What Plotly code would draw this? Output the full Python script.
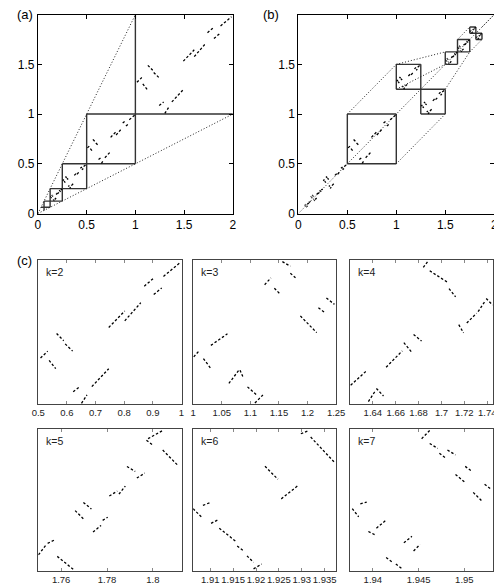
import plotly.graph_objects as go

W, H = 502, 584

# ---- panel (a) / (b) data ----
ab_xticks = [0, 0.5, 1, 1.5, 2]
ab_xticktext = ["0", "0.5", "1", "1.5", "2"]
ab_yticks = [0, 0.5, 1, 1.5]
ab_yticktext = ["0", "0.5", "1", "1.5"]
a_scales = [1, 0.5, 0.25, 0.125, 0.0625]          # corner points of the nested boxes
a_mark_scales = [1, 0.5, 0.25, 0.125]              # boxes that carry a copy of the k=2 set
a_dotted = [(0, 0, 1, 2), (0, 0, 2, 1)]

# squares (x0, y0, side) in panel (b)
b_squares = [(0.5, 0.5, 0.5), (1, 1.25, 0.25), (1.25, 1, 0.25), (1.5, 1.5, 0.125),
             (1.625, 1.625, 0.125), (1.75, 1.8125, 0.0625), (1.8125, 1.75, 0.0625)]
b_mark_squares = b_squares + [(0.25, 0.25, 0.25), (0.125, 0.125, 0.125), (0.0625, 0.0625, 0.0625)]
b_dotted = [(0, 0, 2, 2), (0.5, 1, 1, 1.5), (1, 1.5, 1.5, 1.625), (1.625, 1.75, 1.75, 1.875),
            (1, 0.5, 1.5, 1), (1, 1.25, 1.5, 1.5), (1.5, 1.25, 1.75, 1.625),
            (1.75, 1.625, 1.875, 1.75), (1.875, 1.875, 2, 2)]

# ---- panel (c) data ----
k_labels = ["k=2", "k=3", "k=4", "k=5", "k=6", "k=7"]
k_ranges = [(0.5, 1), (1, 1.25), (1.62, 1.745), (1.75, 1.8125), (1.90625, 1.9375), (1.9375, 1.953125)]
k_ticks = [[0.5, 0.6, 0.7, 0.8, 0.9, 1], [1, 1.05, 1.1, 1.15, 1.2, 1.25],
           [1.64, 1.66, 1.68, 1.7, 1.72, 1.74], [1.76, 1.78, 1.8],
           [1.91, 1.915, 1.92, 1.925, 1.93, 1.935], [1.94, 1.945, 1.95]]
k_ticktext = [["0.5", "0.6", "0.7", "0.8", "0.9", "1"], ["1", "1.05", "1.1", "1.15", "1.2", "1.25"],
              ["1.64", "1.66", "1.68", "1.7", "1.72", "1.74"], ["1.76", "1.78", "1.8"],
              ["1.91", "1.915", "1.92", "1.925", "1.93", "1.935"], ["1.94", "1.945", "1.95"]]

# short dashed pieces of the set, (x0, y0, x1, y1)
k2_segs = [(0.508, 0.660, 0.533, 0.684), (0.538, 0.652, 0.561, 0.623), (0.564, 0.745, 0.589, 0.720),
           (0.594, 0.709, 0.620, 0.684), (0.622, 0.543, 0.645, 0.561), (0.651, 0.503, 0.670, 0.532),
           (0.687, 0.561, 0.746, 0.623), (0.746, 0.766, 0.802, 0.823), (0.802, 0.789, 0.858, 0.852),
           (0.870, 0.909, 0.903, 0.937), (0.903, 0.880, 0.931, 0.903), (0.937, 0.943, 0.993, 0.989)]
k3_segs = [(1.001, 1.082, 1.011, 1.093), (1.018, 1.079, 1.030, 1.063), (1.031, 1.102, 1.060, 1.122),
           (1.0625, 1.036, 1.080, 1.059), (1.082, 1.059, 1.088, 1.045), (1.095, 1.030, 1.111, 1.016),
           (1.108, 1.002, 1.122, 1.016), (1.125, 1.207, 1.136, 1.219), (1.142, 1.201, 1.153, 1.190),
           (1.156, 1.247, 1.170, 1.239), (1.170, 1.227, 1.179, 1.219), (1.1875, 1.153, 1.216, 1.124),
           (1.219, 1.167, 1.230, 1.159), (1.233, 1.184, 1.247, 1.173)]
k4_segs = [(1.6206, 1.6364, 1.6347, 1.6492), (1.6361, 1.6223, 1.6417, 1.6308), (1.6431, 1.6336, 1.6493, 1.6271),
           (1.6516, 1.6520, 1.6657, 1.6662), (1.6671, 1.6733, 1.6742, 1.6648), (1.6756, 1.6804, 1.6826, 1.6747),
           (1.6841, 1.7385, 1.6883, 1.7441), (1.6897, 1.7356, 1.7052, 1.7257), (1.7066, 1.7201, 1.7123, 1.7130),
           (1.7151, 1.6889, 1.7193, 1.6818), (1.7221, 1.6903, 1.7306, 1.6988), (1.7320, 1.7002, 1.7377, 1.7087),
           (1.7391, 1.7116, 1.7447, 1.7059)]
k5_segs = [(1.7501, 1.7572, 1.7534, 1.7615), (1.7541, 1.7622, 1.7569, 1.7636), (1.7583, 1.7565, 1.7654, 1.7507),
           (1.7661, 1.7766, 1.7697, 1.7730), (1.7697, 1.7802, 1.7732, 1.7773), (1.7739, 1.7672, 1.7774, 1.7701),
           (1.7781, 1.7723, 1.7803, 1.7737), (1.7810, 1.7830, 1.7845, 1.7852), (1.7852, 1.7838, 1.7880, 1.7874),
           (1.7887, 1.7960, 1.7923, 1.7938), (1.7930, 1.7909, 1.7965, 1.7931), (1.7972, 1.8075, 1.8001, 1.8053),
           (1.7979, 1.8082, 1.8043, 1.8118), (1.8043, 1.8032, 1.8107, 1.7967)]
k6_segs = [(1.90625, 1.91998, 1.90803, 1.91819), (1.90839, 1.92069, 1.91017, 1.92141),
           (1.91017, 1.91676, 1.91160, 1.91748), (1.91196, 1.91569, 1.91553, 1.91283),
           (1.91588, 1.91176, 1.91731, 1.91068), (1.91802, 1.90961, 1.91945, 1.90818),
           (1.91945, 1.90675, 1.92123, 1.90782), (1.92195, 1.92928, 1.92480, 1.92642),
           (1.92551, 1.92213, 1.92908, 1.92499), (1.92979, 1.93643, 1.93158, 1.93714),
           (1.93194, 1.93571, 1.93729, 1.92999)]
k7_segs = [(1.93775, 1.94436, 1.93845, 1.94347), (1.93863, 1.94490, 1.93933, 1.94508),
           (1.93951, 1.94186, 1.94022, 1.94150), (1.94039, 1.94222, 1.94145, 1.94311),
           (1.94145, 1.93900, 1.94216, 1.93847), (1.94251, 1.93829, 1.94321, 1.93775),
           (1.94339, 1.94061, 1.94427, 1.94133), (1.94445, 1.93972, 1.94515, 1.94043),
           (1.94533, 1.95205, 1.94621, 1.95295), (1.94621, 1.95152, 1.94709, 1.95098),
           (1.94727, 1.95045, 1.94798, 1.94991), (1.94815, 1.95080, 1.94903, 1.95027),
           (1.94903, 1.94812, 1.95009, 1.94723), (1.95009, 1.94901, 1.95080, 1.94848),
           (1.95097, 1.94615, 1.95186, 1.94526), (1.95221, 1.94705, 1.95291, 1.94651)]
k_segs = [k2_segs, k3_segs, k4_segs, k5_segs, k6_segs, k7_segs]

# ---- layout boxes, pixels (left, right, top, bottom) ----
box_a = (23.7, 225, 6.7, 208)
box_b = (292.7, 495, 6.7, 208)
cols = [(24, 172), (184, 331.7), (346, 493.7)]
rows = [(255, 401), (426, 570)]

FONT = "Liberation Sans"
MARK = dict(color="black", width=1.3, dash="2.5px,2px")


def xdom(l, r):
    return [l / W, r / W]


def ydom(t, b):
    return [1 - b / H, 1 - t / H]


def to_xy(segs):
    xs, ys = [], []
    for x0, y0, x1, y1 in segs:
        xs += [x0, x1, None]
        ys += [y0, y1, None]
    return xs, ys


def place(segs, src, x0, y0, w):
    # copy a set of pieces from window src into square (x0, y0, w)
    s0, s1 = src
    f = w / (s1 - s0)
    return [(x0 + (a - s0) * f, y0 + (b - s0) * f, x0 + (c - s0) * f, y0 + (d - s0) * f)
            for a, b, c, d in segs]


fig = go.Figure()

# ---- panel (a) ----
a_lines = []
for s in a_scales:
    a_lines += [(s, s / 2, s, 2 * s), (s / 2, s, 2 * s, s)]
xs, ys = to_xy(a_lines)
fig.add_trace(go.Scatter(x=xs, y=ys, mode="lines", line=dict(color="#333", width=1.4),
                         xaxis="x", yaxis="y", hoverinfo="skip"))
xs, ys = to_xy(a_dotted)
fig.add_trace(go.Scatter(x=xs, y=ys, mode="lines", line=dict(color="#222", width=1, dash="1px,2px"),
                         xaxis="x", yaxis="y", hoverinfo="skip"))
a_marks = []
for s in a_mark_scales:
    a_marks += place(k2_segs, k_ranges[0], s, s, s)
xs, ys = to_xy(a_marks)
fig.add_trace(go.Scatter(x=xs, y=ys, mode="lines", line=MARK, xaxis="x", yaxis="y", hoverinfo="skip"))

# ---- panel (b) ----
sq = []
for x0, y0, w in b_squares:
    sq += [(x0, y0, x0 + w, y0), (x0 + w, y0, x0 + w, y0 + w),
           (x0 + w, y0 + w, x0, y0 + w), (x0, y0 + w, x0, y0)]
xs, ys = to_xy(sq)
fig.add_trace(go.Scatter(x=xs, y=ys, mode="lines", line=dict(color="#333", width=1.4),
                         xaxis="x2", yaxis="y2", hoverinfo="skip"))
xs, ys = to_xy(b_dotted)
fig.add_trace(go.Scatter(x=xs, y=ys, mode="lines", line=dict(color="#222", width=1, dash="1px,2px"),
                         xaxis="x2", yaxis="y2", hoverinfo="skip"))
b_marks = []
for x0, y0, w in b_mark_squares:
    b_marks += place(k2_segs, k_ranges[0], x0, y0, w)
xs, ys = to_xy(b_marks)
fig.add_trace(go.Scatter(x=xs, y=ys, mode="lines", line=MARK, xaxis="x2", yaxis="y2", hoverinfo="skip"))

ab_axis = dict(range=[0, 2], tickmode="array",
               showgrid=False, zeroline=False, showline=True, linecolor="black", linewidth=1,
               mirror="ticks", ticks="inside", ticklen=4, tickcolor="black",
               tickfont=dict(family=FONT, size=12, color="black"))
ab_x = dict(ab_axis, tickvals=ab_xticks, ticktext=ab_xticktext)
ab_y = dict(ab_axis, tickvals=ab_yticks, ticktext=ab_yticktext)
layout = dict(
    xaxis=dict(ab_x, domain=xdom(box_a[0], box_a[1]), anchor="y"),
    yaxis=dict(ab_y, domain=ydom(box_a[2], box_a[3]), anchor="x"),
    xaxis2=dict(ab_x, domain=xdom(box_b[0], box_b[1]), anchor="y2"),
    yaxis2=dict(ab_y, domain=ydom(box_b[2], box_b[3]), anchor="x2"),
)

annotations = [
    dict(text="(a)", x=0, y=1.005, xref="paper", yref="paper", xanchor="left", yanchor="top",
         showarrow=False, font=dict(family=FONT, size=13, color="black")),
    dict(text="(b)", x=254 / W, y=1.005, xref="paper", yref="paper", xanchor="left", yanchor="top",
         showarrow=False, font=dict(family=FONT, size=13, color="black")),
    dict(text="(c)", x=0, y=1 - 246 / H, xref="paper", yref="paper", xanchor="left", yanchor="top",
         showarrow=False, font=dict(family=FONT, size=13, color="black")),
]

# ---- panel (c) ----
for i in range(6):
    n = i + 3
    l, r = cols[i % 3]
    t, b = rows[i // 3]
    xs, ys = to_xy(k_segs[i])
    fig.add_trace(go.Scatter(x=xs, y=ys, mode="lines", line=MARK,
                             xaxis=f"x{n}", yaxis=f"y{n}", hoverinfo="skip"))
    layout[f"xaxis{n}"] = dict(domain=xdom(l, r), anchor=f"y{n}", range=list(k_ranges[i]),
                               tickmode="array", tickvals=k_ticks[i], ticktext=k_ticktext[i],
                               tickangle=0, showgrid=False, zeroline=False, showline=True,
                               linecolor="#444", linewidth=1.2, mirror="ticks", ticks="inside",
                               ticklen=3, tickcolor="#888", ticklabelstandoff=-1,
                               tickfont=dict(family=FONT, size=9.5, color="#222"))
    layout[f"yaxis{n}"] = dict(domain=ydom(t, b), anchor=f"x{n}", range=list(k_ranges[i]),
                               showgrid=False, zeroline=False, showline=True, linecolor="#444",
                               linewidth=1.2, mirror=True, showticklabels=False, ticks="")
    annotations.append(dict(text=k_labels[i], x=0.04, y=0.97, xref=f"x{n} domain", yref=f"y{n} domain",
                            xanchor="left", yanchor="top", showarrow=False,
                            font=dict(family=FONT, size=10.5, color="#222")))

fig.update_layout(layout)
fig.update_layout(width=W, height=H, margin=dict(l=0, r=0, t=0, b=0), showlegend=False,
                  plot_bgcolor="white", paper_bgcolor="white", annotations=annotations)

fig.write_html("out.html")
